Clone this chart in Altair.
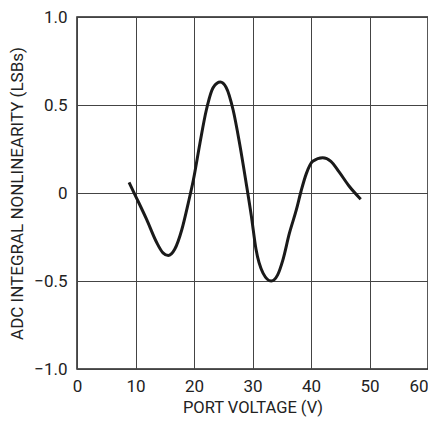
import altair as alt
import pandas as pd

# Port voltage (V) and ADC integral nonlinearity (LSBs)
voltage = [8.9, 10.2, 11.9, 13.6, 14.7, 15.6, 16.7, 17.9, 19.0, 19.9, 21.0, 22.1,
           23.3, 24.5, 25.5, 26.7, 27.8, 28.9, 29.8, 30.6, 31.8, 33.2, 34.3, 35.2,
           36.3, 37.5, 38.3, 39.2, 40.3, 42.0, 43.4, 44.8, 46.5, 48.5]
inl = [0.06, -0.03, -0.15, -0.28, -0.34, -0.355, -0.32, -0.21, -0.06, 0.075, 0.28, 0.47,
       0.60, 0.63, 0.60, 0.47, 0.28, 0.06, -0.13, -0.32, -0.455, -0.50, -0.465, -0.38,
       -0.23, -0.095, 0.01, 0.11, 0.18, 0.20, 0.18, 0.12, 0.04, -0.035]

x_ticks = [0, 10, 20, 30, 40, 50, 60]
y_ticks = [-1.0, -0.5, 0, 0.5, 1.0]

df = pd.DataFrame({"v": voltage, "inl": inl})

FONT = "Roboto"

chart = alt.Chart(df).mark_line(
    color="#1a1a1a", strokeWidth=3, interpolate="monotone"
).encode(
    x=alt.X("v:Q", scale=alt.Scale(domain=[0, 60], nice=False),
            axis=alt.Axis(values=x_ticks, title="PORT VOLTAGE (V)", grid=True,
                          gridColor="#444", gridWidth=1, ticks=False, domain=False,
                          labelPadding=9, titlePadding=5, labelFontSize=17,
                          titleFontSize=16.5, labelFont=FONT, titleFont=FONT,
                          labelColor="#222", titleColor="#222", titleFontWeight="normal",
                          labelAlign={"condition": {"test": "datum.value == 60", "value": "right"},
                                      "value": "center"},
                          labelFlush=False)),
    y=alt.Y("inl:Q", scale=alt.Scale(domain=[-1, 1], nice=False),
            axis=alt.Axis(values=y_ticks, title="ADC INTEGRAL NONLINEARITY (LSBs)",
                          grid=True, gridColor="#444", gridWidth=1, ticks=False,
                          domain=False, labelPadding=10, titlePadding=7,
                          labelFontSize=17, titleFontSize=17, labelFont=FONT,
                          titleFont=FONT, labelColor="#222", titleColor="#222",
                          titleFontWeight="normal",
                          labelExpr="datum.value == 0 ? '0' : replace(format(datum.value, '.1f'), '-', '\u2212')",
                          labelFlush=False)),
).properties(
    width=351, height=352,
    autosize=alt.AutoSizeParams(type="none"),
    padding={"left": 69, "top": 9, "right": 0, "bottom": 48},
).configure_view(
    stroke="#222", strokeWidth=1.5
)

chart.save("out.html", embed_options={"renderer": "svg", "actions": False})
